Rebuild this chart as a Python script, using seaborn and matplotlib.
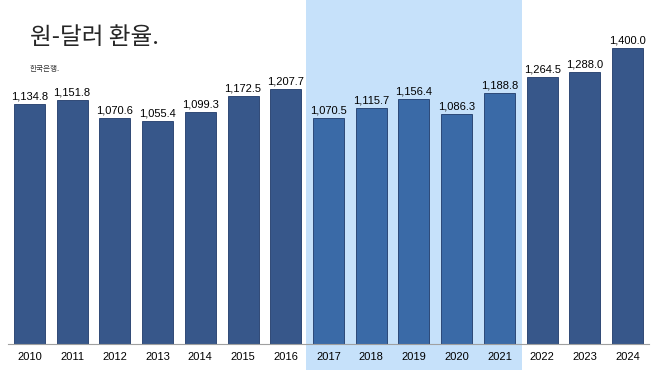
import matplotlib
matplotlib.use("Agg")
import matplotlib.pyplot as plt
import matplotlib.transforms as mtransforms
import seaborn as sns
import pandas as pd

years = ["2010", "2011", "2012", "2013", "2014", "2015", "2016", "2017",
         "2018", "2019", "2020", "2021", "2022", "2023", "2024"]
rates = [1134.8, 1151.8, 1070.6, 1055.4, 1099.3, 1172.5, 1207.7, 1070.5,
         1115.7, 1156.4, 1086.3, 1188.8, 1264.5, 1288.0, 1400.0]
highlight_years = ["2017", "2018", "2019", "2020", "2021"]

title = "원-달러 환율."
source = "한국은행."

sns.set_theme(style="white")
plt.rcParams['font.family'] = ['Liberation Sans', 'Noto Sans CJK KR', 'DejaVu Sans']

df = pd.DataFrame({"year": years, "rate": rates})
df["group"] = ["hl" if y in highlight_years else "base" for y in years]

dark = "#37578a"
light = "#3a6aa7"
band = "#c6e1fa"

fig = plt.figure(figsize=(6.58, 3.70), dpi=100)
ax = fig.add_axes([8 / 658, 26 / 370, 641 / 658, 344 / 370])

palette = {"base": dark, "hl": light}
sns.barplot(data=df, x="year", y="rate", hue="group", palette=palette,
            dodge=False, width=0.725, legend=False, ax=ax, saturation=1,
            edgecolor="#1f3a6a", linewidth=0.6, zorder=3)

# highlight band
i0 = years.index(highlight_years[0])
i1 = years.index(highlight_years[-1])
trans = mtransforms.blended_transform_factory(ax.transData, ax.transAxes)
ax.add_patch(plt.Rectangle((i0 - 0.53, -0.085), (i1 - i0) + 1.06, 1.1,
                           transform=trans, color=band, zorder=0,
                           clip_on=False, linewidth=0))

for i, v in enumerate(rates):
    ax.text(i, v + 12, f"{v:,.1f}", ha="center", va="bottom",
            fontsize=8, color="black", zorder=4)

ax.set_xlim(-0.5, len(years) - 0.5)
ax.set_ylim(0, 1627)
ax.set_yticks([])
ax.set_xlabel("")
ax.set_ylabel("")
ax.tick_params(axis="x", length=0, pad=6, labelsize=8, colors="black")
for s in ["top", "right", "left"]:
    ax.spines[s].set_visible(False)
ax.spines["bottom"].set_color("#a0a0a0")
ax.spines["bottom"].set_linewidth(0.8)
ax.spines["bottom"].set_zorder(5)
ax.patch.set_alpha(0)

fig.text(30 / 658, 1 - 38 / 370, title, fontsize=17, va="center", ha="left",
         fontweight="medium", family=['Noto Sans CJK KR', 'DejaVu Sans'])
fig.text(30 / 658, 1 - 69 / 370, source, fontsize=5.5, va="center", ha="left",
         color="#333333", family=['Noto Sans CJK KR', 'DejaVu Sans'])

fig.savefig("out.png", dpi=100)
